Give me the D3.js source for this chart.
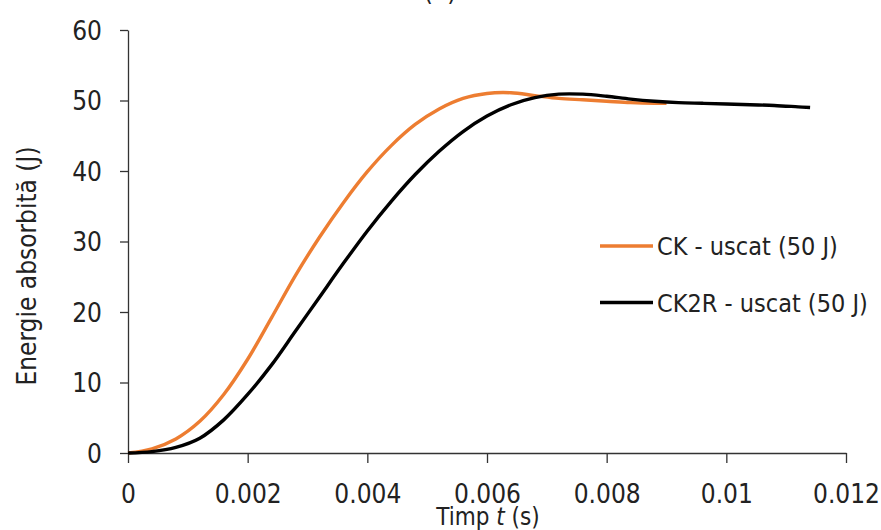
<!DOCTYPE html>
<html>
<head>
<meta charset="utf-8">
<script src="https://cdn.jsdelivr.net/npm/d3@7"></script>
<style>
  body { margin: 0; background: #fff; }
  svg text { font-family: "DejaVu Sans Condensed", "DejaVu Sans", sans-serif; fill: #222; }
</style>
</head>
<body>
<svg id="chart" width="881" height="530"></svg>
<script>
// time (s) and absorbed energy (J)
const timeCK = [0, 0.0004, 0.0008, 0.0012, 0.0016, 0.002, 0.0024, 0.0028, 0.0032, 0.0036, 0.004, 0.0044,
  0.0048, 0.0052, 0.0056, 0.006, 0.0064, 0.0068, 0.0072, 0.0076, 0.008, 0.0084, 0.0088, 0.009]
const energyCK = [0, 0.6, 2.0, 4.5, 8.3, 13.3, 19.2, 25.2, 30.6, 35.5, 39.9, 43.6,
  46.6, 48.8, 50.3, 51.0, 51.1, 50.7, 50.3, 50.1, 49.9, 49.7, 49.6, 49.6]

const timeCK2R = [0, 0.0004, 0.0008, 0.0012, 0.0016, 0.002, 0.0024, 0.0028, 0.0032, 0.0036, 0.004, 0.0044,
  0.0048, 0.0052, 0.0056, 0.006, 0.0064, 0.0068, 0.0072, 0.0076, 0.008, 0.0084, 0.0088, 0.0092,
  0.0096, 0.01, 0.0104, 0.0108, 0.0112, 0.0114]
const energyCK2R = [0, 0.2, 0.8, 2.1, 4.7, 8.3, 12.5, 17.3, 22.1, 26.9, 31.5, 35.7,
  39.5, 42.8, 45.6, 47.8, 49.4, 50.4, 50.9, 50.9, 50.6, 50.2, 49.9, 49.7,
  49.6, 49.5, 49.4, 49.3, 49.1, 49.0]

const xTicks = [0, 0.002, 0.004, 0.006, 0.008, 0.01, 0.012]
const yTicks = [0, 10, 20, 30, 40, 50, 60]

const seriesNames = ["CK - uscat (50 J)", "CK2R - uscat (50 J)"]
const seriesColors = ["#ED7D31", "#000000"]

const svg = d3.select("#chart")

const x = d3.scaleLinear().domain([0, 0.012]).range([128, 846])
const y = d3.scaleLinear().domain([0, 60]).range([453, 30])

const xAxis = svg.append("g")
  .attr("transform", `translate(0,${y(0)})`)
  .call(d3.axisBottom(x).tickValues(xTicks).tickFormat(d => String(+d.toFixed(3))).tickSize(10).tickSizeOuter(0))
const yAxis = svg.append("g")
  .attr("transform", `translate(${x(0)},0)`)
  .call(d3.axisLeft(y).tickValues(yTicks).tickSize(8).tickSizeOuter(0))

for (const ax of [xAxis, yAxis]) {
  ax.select(".domain").attr("stroke", "#333").attr("stroke-width", 1.3)
  ax.selectAll(".tick line").attr("stroke", "#333").attr("stroke-width", 1.3)
  ax.selectAll(".tick text").attr("font-size", 26).attr("fill", "#222")
    .style("font-family", "'DejaVu Sans Condensed', 'DejaVu Sans', sans-serif")
}
xAxis.selectAll(".tick text").attr("dy", 0).attr("y", 50)
yAxis.selectAll(".tick text").attr("x", -26).attr("dy", "0.36em")

const line = d3.line()
  .x(d => x(d[0]))
  .y(d => y(d[1]))
  .curve(d3.curveCatmullRom.alpha(0.5))

const series = [
  d3.zip(timeCK, energyCK),
  d3.zip(timeCK2R, energyCK2R)
]

svg.selectAll(".series")
  .data(series)
  .join("path")
  .attr("class", "series")
  .attr("d", line)
  .attr("fill", "none")
  .attr("stroke", (d, i) => seriesColors[i])
  .attr("stroke-width", 3.4)
  .attr("stroke-linejoin", "round")

// legend
const legend = svg.append("g")
seriesNames.forEach((name, i) => {
  const ly = 246 + i * 56.5
  legend.append("line")
    .attr("x1", 600).attr("x2", 653)
    .attr("y1", ly).attr("y2", ly)
    .attr("stroke", seriesColors[i])
    .attr("stroke-width", 3.4)
  legend.append("text")
    .attr("x", 657).attr("y", ly + 9)
    .attr("font-size", 25)
    .text(name)
})

// titles
svg.append("text")
  .attr("transform", "translate(36,266) rotate(-90)")
  .attr("text-anchor", "middle")
  .attr("font-size", 26)
  .text("Energie absorbită  (J)")

const xt = svg.append("text")
  .attr("x", 488).attr("y", 525)
  .attr("text-anchor", "middle")
  .attr("font-size", 24)
xt.append("tspan").text("Timp ")
xt.append("tspan").attr("font-style", "italic").text("t")
xt.append("tspan").text(" (s)")

svg.append("text")
  .attr("x", 440).attr("y", 0)
  .attr("text-anchor", "middle")
  .attr("font-size", 26)
  .text("(a)")
</script>
</body>
</html>
